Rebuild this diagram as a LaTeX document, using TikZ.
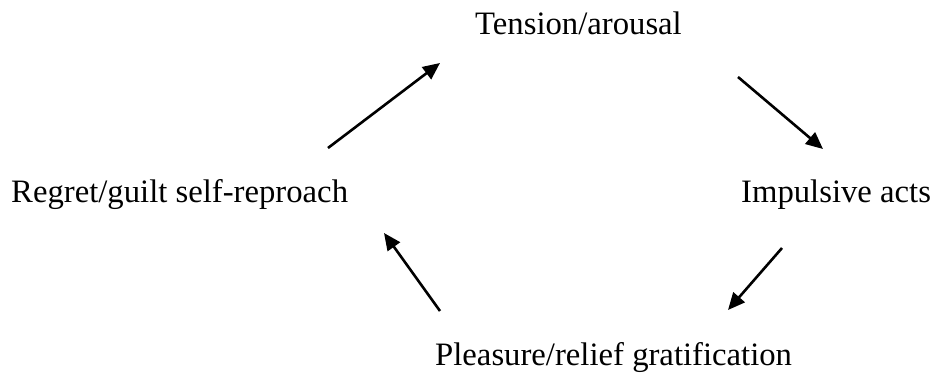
\documentclass[tikz,border=0pt]{standalone}
\usepackage{fontspec}
\setmainfont{Liberation Serif}
\usetikzlibrary{arrows.meta}
\begin{document}
\begin{tikzpicture}[x=1pt,y=-1pt,
  lbl/.style={anchor=base west,inner sep=0pt,font=\fontsize{32.7}{39}\selectfont},
  conn/.style={line width=2.6pt,-{Triangle[length=17pt,width=15pt]}}]
\useasboundingbox (0,0) rectangle (933,374);
\node[lbl] (ten) at (475,35) {Tension/arousal};
\node[lbl] (reg) at (11,202) {Regret/guilt self-reproach};
\node[lbl] (imp) at (741,202) {Impulsive acts};
\node[lbl] (ple) at (435,365) {Pleasure/relief gratification};
\coordinate (a1s) at (328,148); \coordinate (a1e) at (440,63);
\coordinate (a2s) at (738,77);  \coordinate (a2e) at (823,149);
\coordinate (a3s) at (782,248); \coordinate (a3e) at (728,310);
\coordinate (a4s) at (440,311); \coordinate (a4e) at (384,233);
\draw[conn] (a1s) -- (a1e);
\draw[conn] (a2s) -- (a2e);
\draw[conn] (a3s) -- (a3e);
\draw[conn] (a4s) -- (a4e);
\end{tikzpicture}
\end{document}
